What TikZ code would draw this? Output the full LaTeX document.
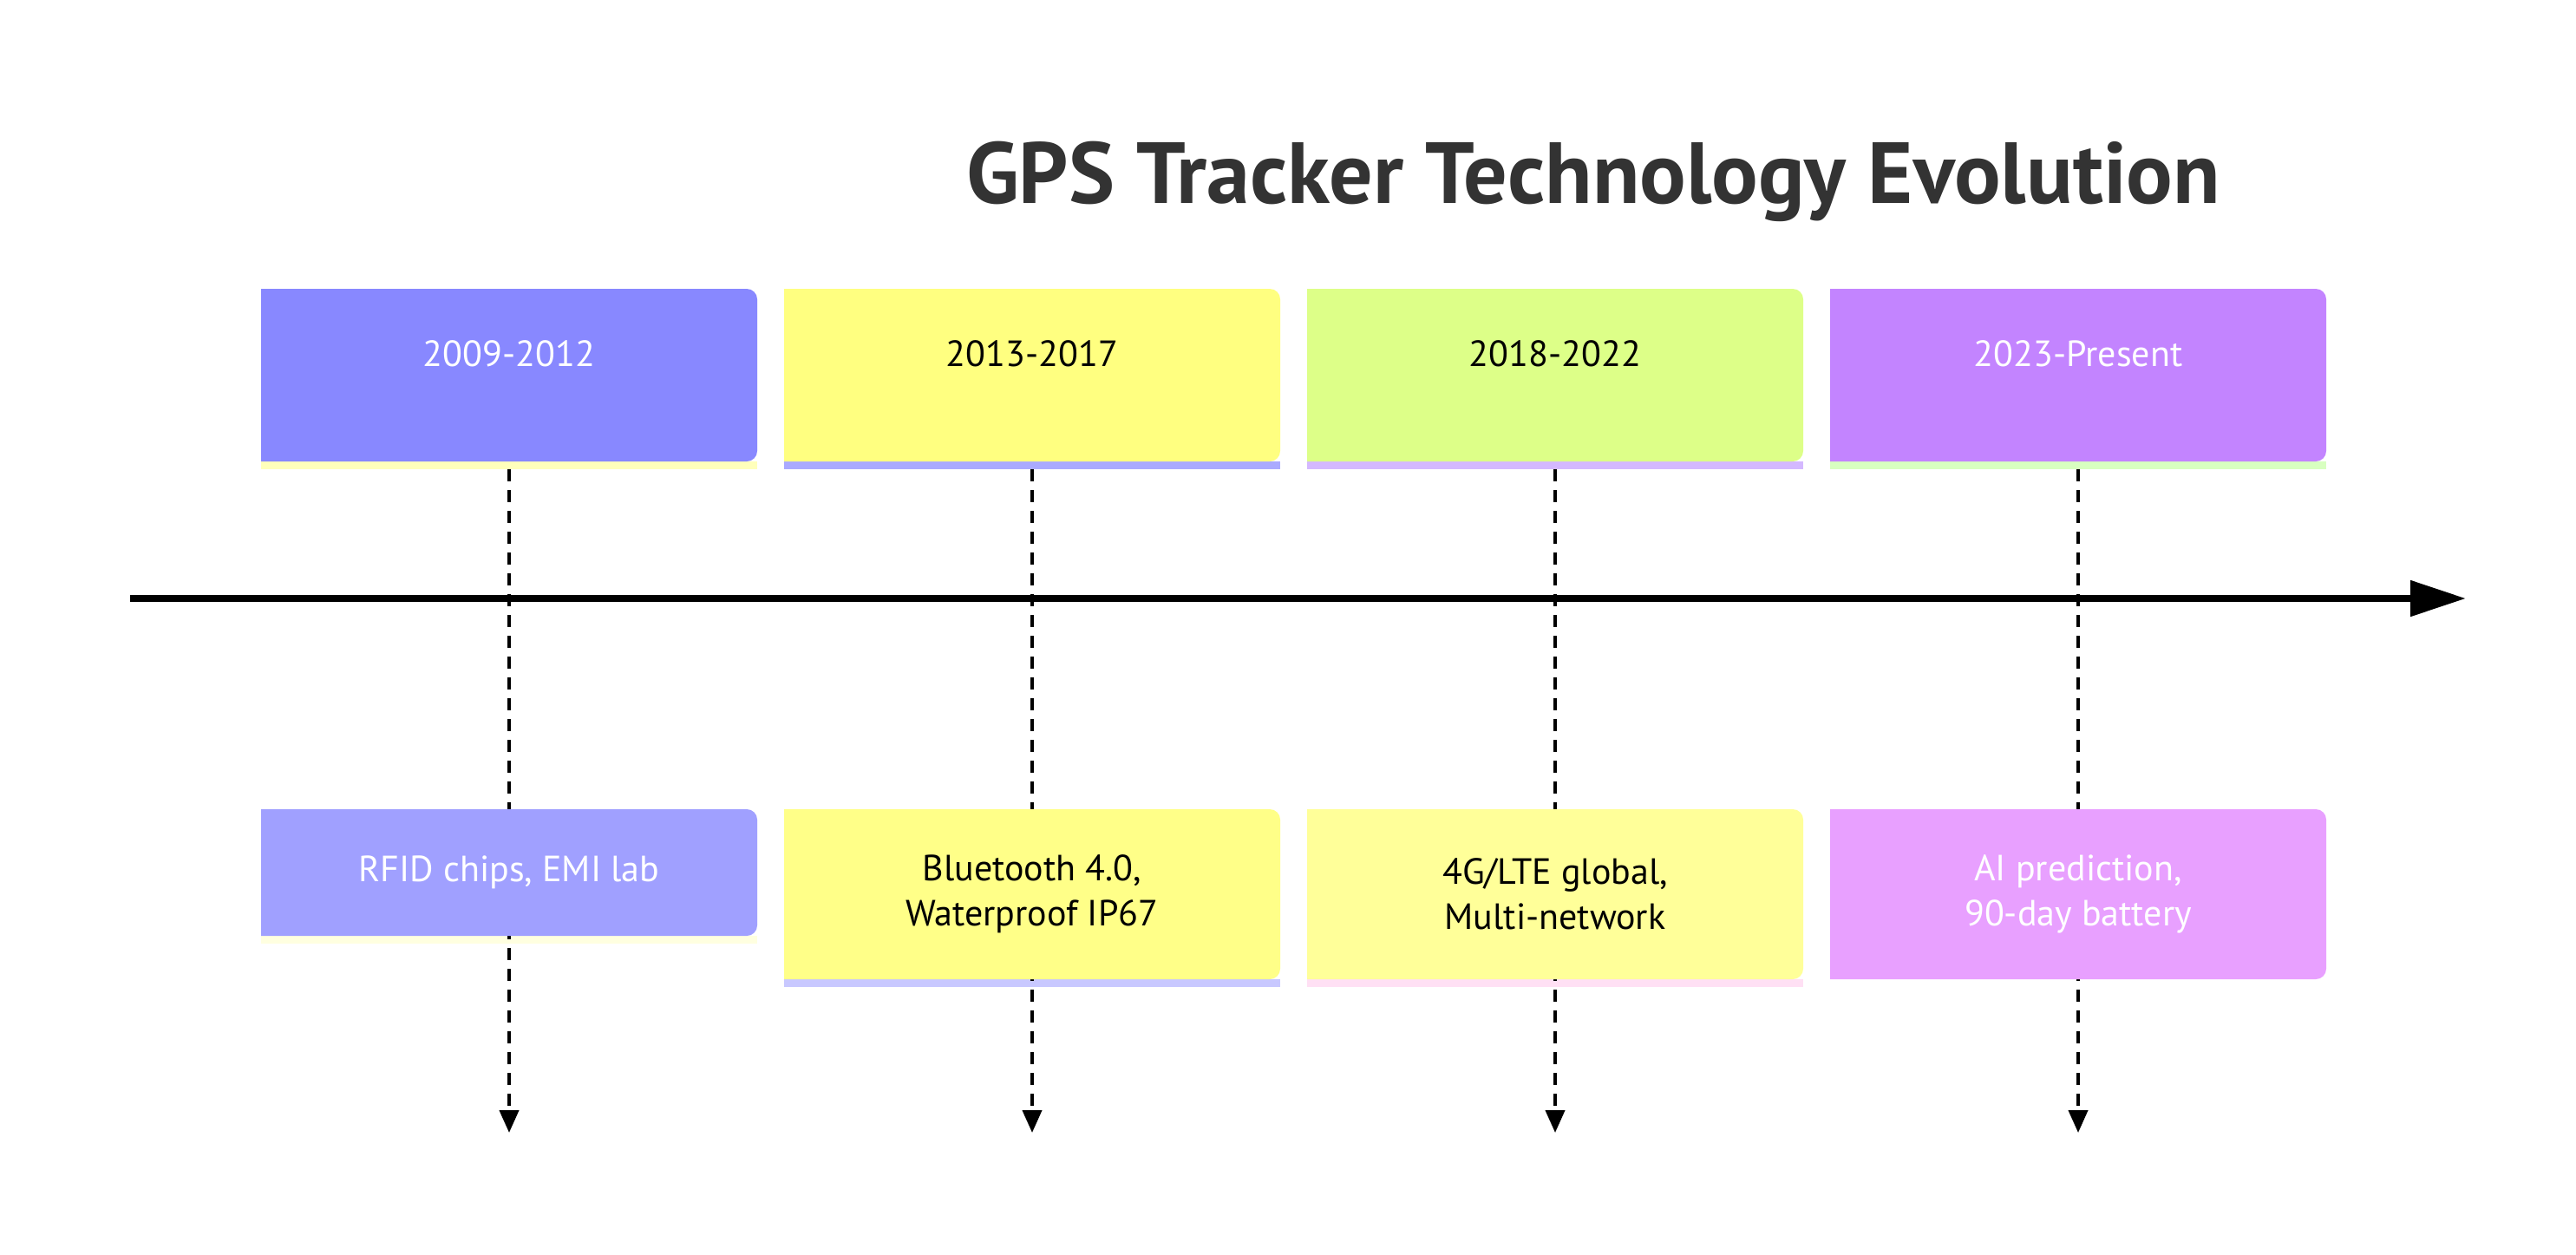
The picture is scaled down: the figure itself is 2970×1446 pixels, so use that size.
\documentclass[tikz,border=0pt]{standalone}
\usepackage{fontspec}
\setmainfont{PT Sans}
\usetikzlibrary{arrows.meta}
\definecolor{hA}{HTML}{8888FF}\definecolor{lA}{HTML}{A0A0FF}\definecolor{sA}{HTML}{FFFFBB}\definecolor{tA}{HTML}{FFFFE0}
\definecolor{hB}{HTML}{FFFF80}\definecolor{lB}{HTML}{FFFF88}\definecolor{sB}{HTML}{AAAAFF}\definecolor{tB}{HTML}{C8C8FF}
\definecolor{hC}{HTML}{DDFF88}\definecolor{lC}{HTML}{FFFF99}\definecolor{sC}{HTML}{D4B8FF}\definecolor{tC}{HTML}{FFE0F4}
\definecolor{hD}{HTML}{C384FF}\definecolor{lD}{HTML}{E8A0FF}\definecolor{sD}{HTML}{D8FFC0}\definecolor{tD}{HTML}{FFFFFF}
\tikzset{x=1pt,y=-1pt,
 lbl/.style={font=\fontsize{42}{52}\selectfont,align=center},
 conn/.style={line width=4pt,dash pattern=on 14pt off 10pt,-{Triangle[length=26pt,width=22pt]}},
 axis/.style={line width=8pt,-{Triangle[length=64pt,width=40pt]}}}
\begin{document}
\begin{tikzpicture}
\useasboundingbox (0,0) rectangle (2970,1446);
\node[font=\fontsize{100}{110}\selectfont\bfseries,text=black!80] (title) at (1837,209) {GPS Tracker Technology Evolution};
\coordinate (as) at (150,690); \coordinate (ae) at (2843,690);
\draw[axis] (as) -- (ae);
\foreach \i/\c/\yr/\ev/\lb/\tc in {1/A/2009-2012/{RFID chips, EMI lab}/1079/white,
  2/B/2013-2017/{Bluetooth 4.0,\\Waterproof IP67}/1129/black,
  3/C/2018-2022/{4G/LTE global,\\Multi-network}/1129/black,
  4/D/2023-Present/{AI prediction,\\90-day battery}/1129/white}{
  \pgfmathsetmacro{\xl}{301+603*(\i-1)}
  \pgfmathsetmacro{\xc}{\xl+286}
  \fill[t\c] (\xl,\lb) rectangle (\xl+572,\lb+9);
  \draw[conn] (\xc,541) -- (\xc,1306);
  \fill[s\c] (\xl,532) rectangle (\xl+572,541);
  \fill[h\c,rounded corners=12pt] (\xl,333) -- (\xl+572,333) -- (\xl+572,532) [sharp corners]-- (\xl,532) -- cycle;
  \fill[l\c,rounded corners=12pt] (\xl,933) -- (\xl+572,933) -- (\xl+572,\lb) [sharp corners]-- (\xl,\lb) -- cycle;
  \node[lbl,text=\tc] (y\i) at (\xc,408) {\yr};
  \node[lbl,text=\tc] (e\i) at (\xc,{(933+\lb)/2}) {\ev};
}
\end{tikzpicture}
\end{document}
